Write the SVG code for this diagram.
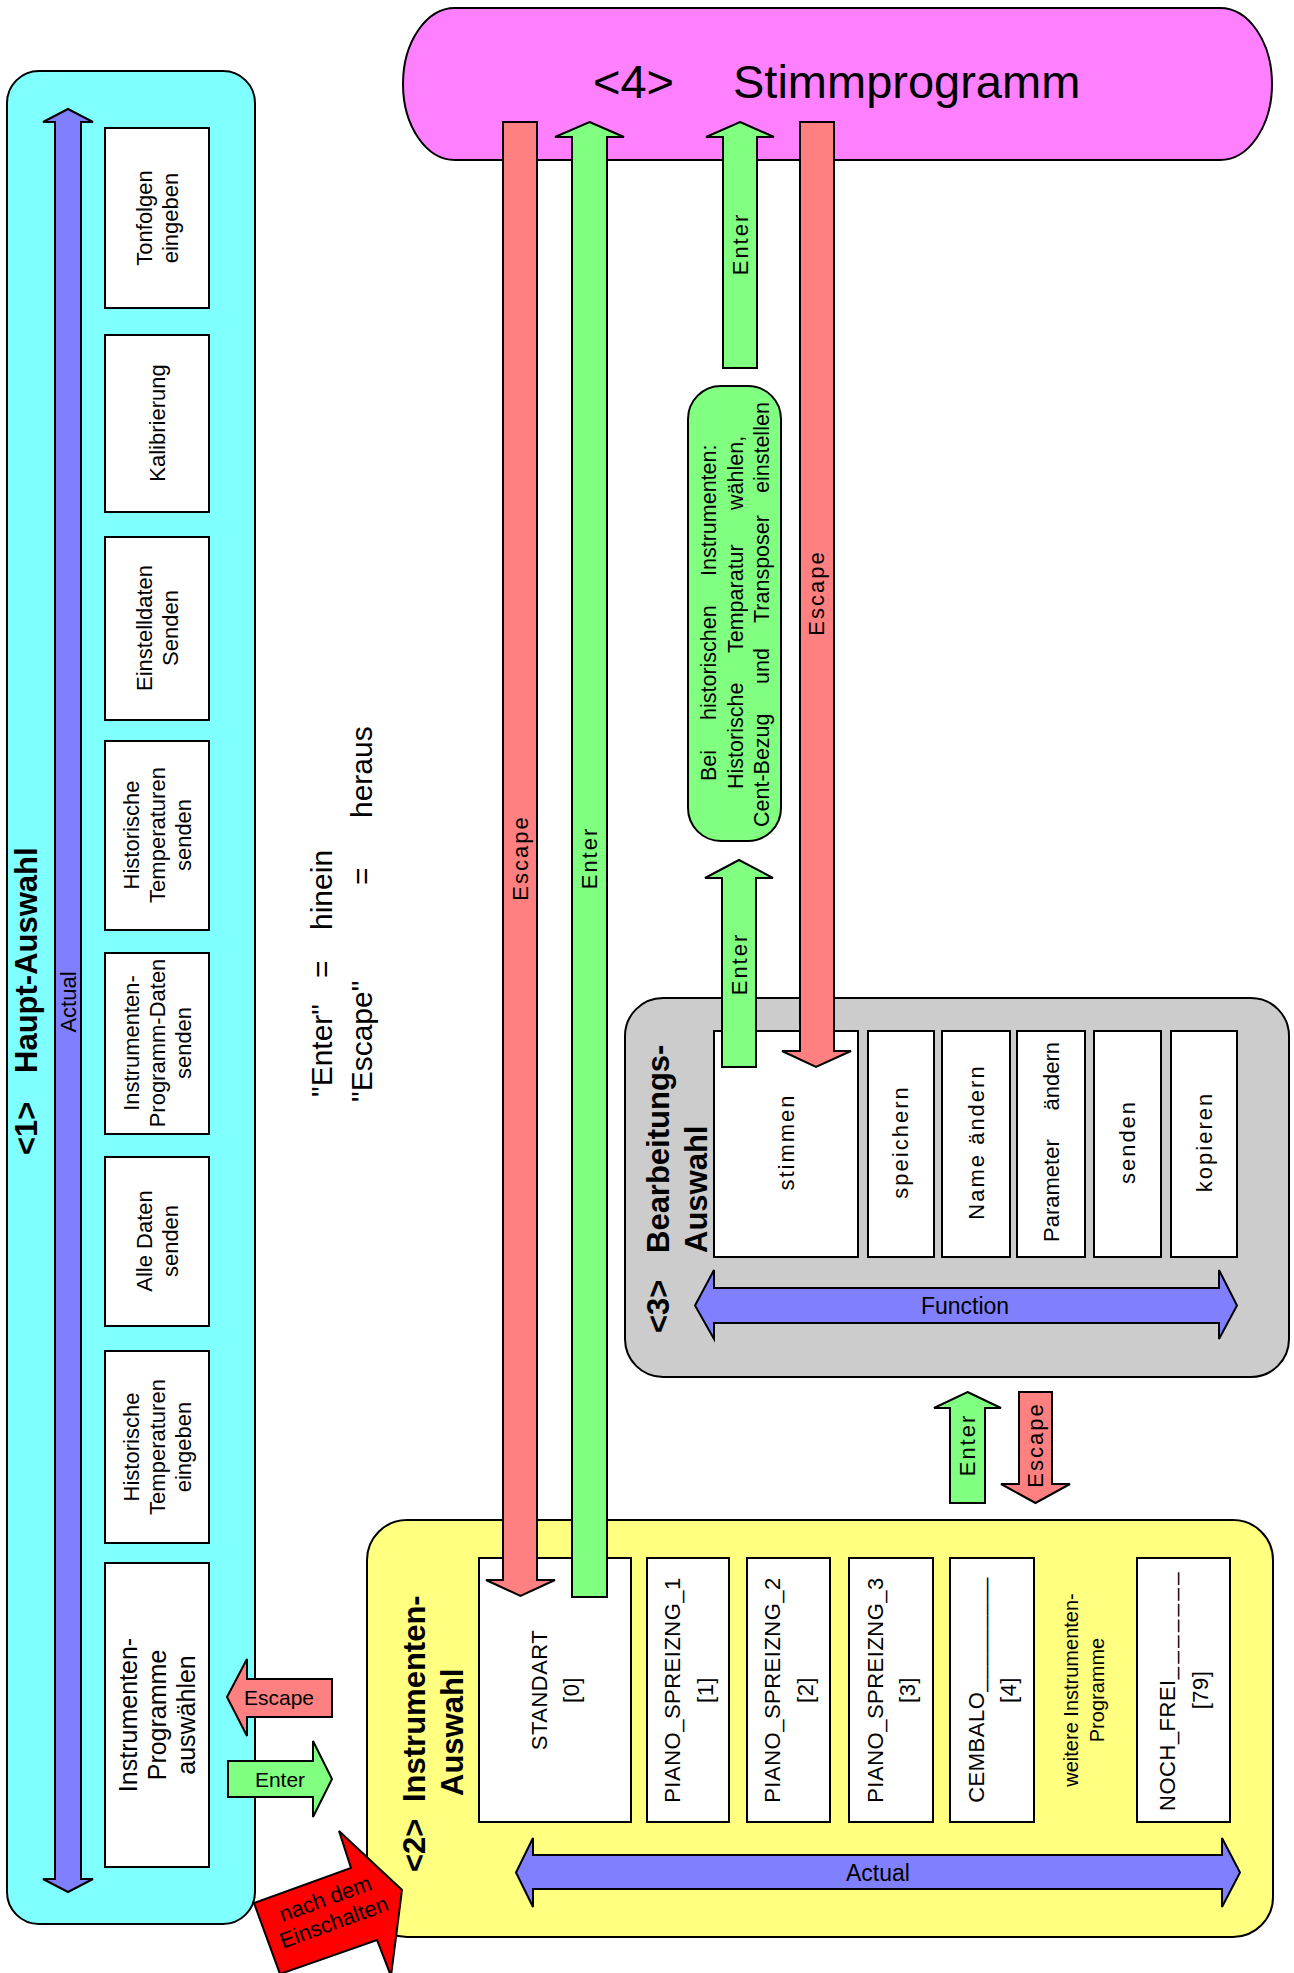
<svg xmlns="http://www.w3.org/2000/svg" width="1294" height="1973" viewBox="0 0 1294 1973">
<style>
text{font-family:"Liberation Sans",Arial,Helvetica,sans-serif;fill:#000}
.o{stroke:#000;stroke-width:2}
.box{fill:#fff;stroke:#000;stroke-width:2}
.t{font-size:22px}
.t25{font-size:25px}
.ttl{font-size:31px;font-weight:bold}
.lab{font-size:22px;letter-spacing:2px}
.yt{font-size:22px;letter-spacing:0.5px}
.bt{font-size:21.5px}
.leg{font-size:30px}
.mid{text-anchor:middle}
.red{fill:#FF8080;stroke:#000;stroke-width:2}
.grn{fill:#80FF80;stroke:#000;stroke-width:2}
.blu{fill:#8080FF;stroke:#000;stroke-width:2}
</style>
<rect width="1294" height="1973" fill="#fff"/>

<g id="haupt-auswahl">
<rect x="7" y="71" width="248" height="1853" rx="32" fill="#80FFFF" class="o"/>
<polygon class="blu" points="68,109 93,122 81,122 81,1879 93,1879 68,1892 43,1879 55,1879 55,122 43,122"/>
<rect class="box" x="105" y="128" width="104" height="180"/>
<rect class="box" x="105" y="335" width="104" height="177"/>
<rect class="box" x="105" y="537" width="104" height="183"/>
<rect class="box" x="105" y="741" width="104" height="189"/>
<rect class="box" x="105" y="953" width="104" height="181"/>
<rect class="box" x="105" y="1157" width="104" height="169"/>
<rect class="box" x="105" y="1351" width="104" height="192"/>
<rect class="box" x="105" y="1563" width="104" height="304"/>
<g transform="rotate(-90)">
<text class="t mid" x="-1002" y="76">Actual</text>
<text class="ttl" x="-1155" y="37">&lt;1&gt;</text>
<text class="ttl" x="-1073" y="37">Haupt-Auswahl</text>
<text class="t mid" x="-218" y="152">Tonfolgen</text>
<text class="t mid" x="-218" y="178">eingeben</text>
<text class="t mid" x="-423" y="165">Kalibrierung</text>
<text class="t mid" x="-628" y="152">Einstelldaten</text>
<text class="t mid" x="-628" y="178">Senden</text>
<text class="t mid" x="-835" y="139">Historische</text>
<text class="t mid" x="-835" y="165">Temperaturen</text>
<text class="t mid" x="-835" y="191">senden</text>
<text class="t mid" x="-1043" y="139">Instrumenten-</text>
<text class="t mid" x="-1043" y="165">Programm-Daten</text>
<text class="t mid" x="-1043" y="191">senden</text>
<text class="t mid" x="-1241" y="152">Alle Daten</text>
<text class="t mid" x="-1241" y="178">senden</text>
<text class="t mid" x="-1447" y="139">Historische</text>
<text class="t mid" x="-1447" y="165">Temperaturen</text>
<text class="t mid" x="-1447" y="191">eingeben</text>
<text class="t25 mid" x="-1715" y="137">Instrumenten-</text>
<text class="t25 mid" x="-1715" y="166">Programme</text>
<text class="t25 mid" x="-1715" y="195">auswählen</text>
</g>
</g>

<g id="stimmprogramm">
<rect x="403" y="8" width="869" height="152" rx="52" ry="76" fill="#FF80FF" class="o"/>
<text x="593" y="98" font-size="47">&lt;4&gt;</text>
<text x="733" y="98" font-size="47">Stimmprogramm</text>
</g>

<g id="historisch-hinweis">
<rect x="688" y="386" width="93" height="455" rx="33" fill="#80FF80" class="o"/>
<g transform="rotate(-90)" class="bt">
<text x="-781" y="716">Bei</text>
<text x="-720" y="716">historischen</text>
<text x="-576" y="716">Instrumenten:</text>
<text x="-789" y="743">Historische</text>
<text x="-653" y="743">Temparatur</text>
<text x="-510" y="743">wählen,</text>
<text x="-827" y="769">Cent-Bezug</text>
<text x="-684" y="769">und</text>
<text x="-623" y="769">Transposer</text>
<text x="-493" y="769">einstellen</text>
</g>
</g>

<g id="bearbeitungs-auswahl">
<rect x="625" y="998" width="664" height="379" rx="38" fill="#CCCCCC" class="o"/>
<rect class="box" x="714" y="1031" width="144" height="226"/>
<rect class="box" x="868" y="1031" width="66" height="226"/>
<rect class="box" x="942" y="1031" width="68" height="226"/>
<rect class="box" x="1017" y="1031" width="68" height="226"/>
<rect class="box" x="1094" y="1031" width="67" height="226"/>
<rect class="box" x="1171" y="1031" width="66" height="226"/>
<polygon class="blu" points="695,1305.5 714,1270 714,1288 1219,1288 1219,1270 1237,1305.5 1219,1339 1219,1323 714,1323 714,1339"/>
<text x="965" y="1314" font-size="23" class="mid">Function</text>
<g transform="rotate(-90)">
<text class="ttl" x="-1333" y="669">&lt;3&gt;</text>
<text class="ttl" x="-1253" y="669">Bearbeitungs-</text>
<text class="ttl" x="-1253" y="707">Auswahl</text>
<text class="lab mid" x="-1142" y="794">stimmen</text>
<text class="lab mid" x="-1142" y="908">speichern</text>
<text class="lab mid" x="-1142" y="984">Name ändern</text>
<text class="t" x="-1242" y="1059">Parameter</text>
<text class="t" x="-1042" y="1059" text-anchor="end">ändern</text>
<text class="lab mid" x="-1142" y="1135">senden</text>
<text class="lab mid" x="-1142" y="1212">kopieren</text>
</g>
</g>

<g id="instrumenten-auswahl">
<rect x="367" y="1520" width="906" height="417" rx="40" fill="#FFFF80" class="o"/>
<rect class="box" x="479" y="1558" width="152" height="264"/>
<rect class="box" x="647" y="1558" width="82" height="264"/>
<rect class="box" x="747" y="1558" width="83" height="264"/>
<rect class="box" x="849" y="1558" width="84" height="264"/>
<rect class="box" x="950" y="1558" width="84" height="264"/>
<rect class="box" x="1137" y="1558" width="93" height="264"/>
<polygon class="blu" points="516,1872.5 533,1838 533,1855 1222,1855 1222,1838 1240,1872.5 1222,1907 1222,1889 533,1889 533,1907"/>
<text x="878" y="1881" font-size="23" class="mid">Actual</text>
<g transform="rotate(-90)">
<text class="ttl" x="-1872" y="425">&lt;2&gt;</text>
<text class="ttl" x="-1802" y="425">Instrumenten-</text>
<text class="ttl" x="-1796" y="463">Auswahl</text>
<text class="yt mid" x="-1690" y="547">STANDART</text>
<text class="yt mid" x="-1690" y="579">[0]</text>
<text class="yt mid" x="-1690" y="680">PIANO_SPREIZNG_1</text>
<text class="yt mid" x="-1690" y="713">[1]</text>
<text class="yt mid" x="-1690" y="780">PIANO_SPREIZNG_2</text>
<text class="yt mid" x="-1690" y="813">[2]</text>
<text class="yt mid" x="-1690" y="883">PIANO_SPREIZNG_3</text>
<text class="yt mid" x="-1690" y="915">[3]</text>
<text class="yt mid" x="-1690" y="984">CEMBALO_________</text>
<text class="yt mid" x="-1690" y="1016">[4]</text>
<text class="mid" x="-1690" y="1078" font-size="20">weitere Instrumenten-</text>
<text class="mid" x="-1690" y="1104" font-size="20">Programme</text>
<text class="yt mid" x="-1690" y="1175">NOCH_FREI<tspan letter-spacing="3.5">_______</tspan></text>
<text class="yt mid" x="-1690" y="1208">[79]</text>
</g>
</g>

<g id="legende">
<g transform="rotate(-90)" class="leg">
<text x="-1097" y="332">"Enter"</text>
<text x="-978" y="332">=</text>
<text x="-930" y="332">hinein</text>
<text x="-1102" y="372">"Escape"</text>
<text x="-885" y="372">=</text>
<text x="-818" y="372">heraus</text>
</g>
</g>

<g id="connectors">
<polygon class="red" points="503,122 537,122 537,1580 555,1580 520.5,1596 486,1580 503,1580"/>
<polygon class="grn" points="589.5,122 624,137 607,137 607,1597 572,1597 572,137 555,137"/>
<polygon class="grn" points="740,122 774,137 757,137 757,368 723,368 723,137 706,137"/>
<polygon class="red" points="800,122 834,122 834,1051 851,1051 816,1067 782,1051 800,1051"/>
<polygon class="grn" points="739,860 773,878 756,878 756,1067 722,1067 722,878 705,878"/>
<polygon class="grn" points="967.5,1392 1001,1408 985,1408 985,1503 950,1503 950,1408 934,1408"/>
<polygon class="red" points="1019,1392 1052,1392 1052,1484 1070,1484 1035.5,1503 1001,1484 1019,1484"/>
<polygon class="red" points="227,1697 247,1659 247,1679 332,1679 332,1717 247,1717 247,1736"/>
<polygon class="grn" points="228,1761 313,1761 313,1741 332,1779 313,1817 313,1797 228,1797"/>
<polygon points="254,1903 351,1868 339,1831 402,1890 391,1976 377,1940 280,1974" fill="#FF0000" class="o"/>
<text x="279" y="1705" font-size="21" class="mid">Escape</text>
<text x="280" y="1787" font-size="21" class="mid">Enter</text>
<g transform="translate(332,1917) rotate(-20)" font-size="22">
<text class="mid" y="-12">nach dem</text>
<text class="mid" y="13">Einschalten</text>
</g>
<g transform="rotate(-90)">
<text class="lab mid" x="-858" y="528">Escape</text>
<text class="lab mid" x="-858" y="597">Enter</text>
<text class="lab mid" x="-244" y="748">Enter</text>
<text class="lab mid" x="-593" y="824">Escape</text>
<text class="lab mid" x="-964" y="747">Enter</text>
<text class="lab mid" x="-1445" y="975">Enter</text>
<text class="lab mid" x="-1445" y="1043">Escape</text>
</g>
</g>
</svg>
